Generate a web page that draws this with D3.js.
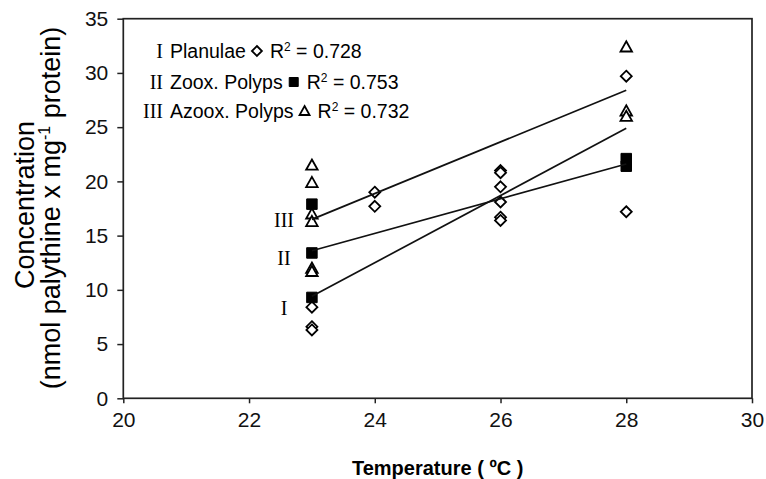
<!DOCTYPE html>
<html>
<head>
<meta charset="utf-8">
<script src="https://cdn.jsdelivr.net/npm/d3@7"></script>
<style>
  body { margin: 0; background: #fff; }
  svg { display: block; }
</style>
</head>
<body>
<script>
// tick values
const tempTicks = [20, 22, 24, 26, 28, 30];
const concTicks = [0, 5, 10, 15, 20, 25, 30, 35];

// I Planulae (diamonds)
const planT = [23, 23, 23, 24, 24, 26, 26, 26, 26, 26, 26, 28, 28];
const planV = [8.4, 6.6, 6.3, 19.0, 17.7, 21.0, 20.8, 19.5, 18.1, 16.7, 16.4, 29.7, 17.2];
// II Zoox. Polyps (filled squares)
const zooxT = [23, 23, 23, 28, 28];
const zooxV = [17.9, 13.4, 9.3, 22.1, 21.4];
// III Azoox. Polyps (triangles)
const azooxT = [23, 23, 23, 23, 23, 23, 28, 28, 28];
const azooxV = [21.5, 19.9, 17.0, 16.3, 12.0, 11.7, 32.4, 26.5, 26.0];

// regression lines, value at 23 and 28 degC
const fitT = [23, 28];
const fitI = [9.4, 24.9];
const fitII = [13.6, 21.6];
const fitIII = [16.5, 28.4];

// legend
const numerals = ['I', 'II', 'III'];
const groupNames = ['Planulae', 'Zoox. Polyps', 'Azoox. Polyps'];
const rSquared = ['0.728', '0.753', '0.732'];
// numeral labels next to the line starts
const numeralAt = [8.3, 12.9, 16.4];

const W = 766, H = 479;
const margin = { top: 18.7, right: 14, bottom: 80.7, left: 123.3 };

const svg = d3.select('body').append('svg')
  .attr('width', W)
  .attr('height', H);

const x = d3.scaleLinear().domain([20, 30]).range([margin.left, W - margin.right]);
const y = d3.scaleLinear().domain([0, 35]).range([H - margin.bottom, margin.top]);

const sans = '"Liberation Sans", Arial, sans-serif';
const serif = '"Liberation Serif", "Times New Roman", serif';

// axes
const xAxis = svg.append('g')
  .attr('transform', `translate(0,${y(0)})`)
  .call(d3.axisBottom(x).tickValues(tempTicks).tickSize(5).tickSizeOuter(0).tickPadding(9));
const yAxis = svg.append('g')
  .attr('transform', `translate(${x(20)},0)`)
  .call(d3.axisLeft(y).tickValues(concTicks).tickSize(6).tickSizeOuter(0).tickPadding(9));

[xAxis, yAxis].forEach(g => {
  g.select('.domain').remove();
  g.selectAll('line').attr('stroke', '#222').attr('stroke-width', 1.5);
  g.selectAll('text')
    .attr('fill', '#111')
    .style('font-family', sans)
    .style('font-size', '21px');
});

// frame
svg.append('rect')
  .attr('x', x(20)).attr('y', y(35))
  .attr('width', x(30) - x(20)).attr('height', y(0) - y(35))
  .attr('fill', 'none').attr('stroke', '#222').attr('stroke-width', 1.7);

// axis titles
svg.append('text')
  .attr('x', (x(20) + x(30)) / 2).attr('y', 475)
  .attr('text-anchor', 'middle')
  .style('font-family', sans).style('font-size', '20px').style('font-weight', 'bold')
  .text('Temperature ( ºC )');

const yTitle = svg.append('g').attr('transform', 'translate(0,205)');
yTitle.append('text')
  .attr('transform', 'translate(34,0) rotate(-90)')
  .attr('text-anchor', 'middle')
  .style('font-family', sans).style('font-size', '27px')
  .text('Concentration');
const t2 = yTitle.append('text')
  .attr('transform', 'translate(60,3) rotate(-90)')
  .attr('text-anchor', 'middle')
  .style('font-family', sans).style('font-size', '27px');
t2.append('tspan').text('(nmol palythine x mg');
t2.append('tspan').attr('dy', -10).style('font-size', '16px').text('-1');
t2.append('tspan').attr('dy', 10).text(' protein)');

// marker shapes
const shapes = {
  diamond: (s) => `M0,${-s / 2}L${s / 2},0L0,${s / 2}L${-s / 2},0Z`,
  square: (s) => `M${-s / 2},${-s / 2}h${s}v${s}h${-s}Z`,
  triangle: (s) => {
    const h = s * 0.8;
    return `M0,${-h / 2 - 1}L${s / 2},${h / 2}L${-s / 2},${h / 2}Z`;
  }
};

function drawMarker(sel, kind, s) {
  sel.append('path')
    .attr('d', shapes[kind](s))
    .attr('fill', kind === 'square' ? '#000' : '#fff')
    .attr('stroke', '#000')
    .attr('stroke-width', kind === 'square' ? 1 : 1.8)
    .attr('stroke-linejoin', 'miter');
}

const series = [
  { t: planT, v: planV, kind: 'diamond', size: 11 },
  { t: zooxT, v: zooxV, kind: 'square', size: 10.5 },
  { t: azooxT, v: azooxV, kind: 'triangle', size: 11.5 }
];

series.forEach(s => {
  s.v.forEach((val, i) => {
    const g = svg.append('g').attr('transform', `translate(${x(s.t[i])},${y(val)})`);
    drawMarker(g, s.kind, s.size);
  });
});

// regression lines
const line = d3.line().x(d => x(d[0])).y(d => y(d[1]));
[fitI, fitII, fitIII].forEach(f => {
  svg.append('path')
    .attr('d', line(fitT.map((t, i) => [t, f[i]])))
    .attr('fill', 'none')
    .attr('stroke', '#111')
    .attr('stroke-width', 1.7);
});

// numeral labels beside the lines
numerals.forEach((n, i) => {
  svg.append('text')
    .attr('x', 284).attr('y', y(numeralAt[i]))
    .attr('dy', '0.35em')
    .attr('text-anchor', 'middle')
    .style('font-family', serif).style('font-size', '20px')
    .text(n);
});

// legend
const legendY = [51, 82, 111];
const markerKinds = ['diamond', 'square', 'triangle'];
const markerSizes = [10, 9, 10];
numerals.forEach((n, i) => {
  const row = svg.append('g').attr('transform', `translate(0,${legendY[i]})`);
  row.append('text')
    .attr('x', 163).attr('dy', '0.35em')
    .attr('text-anchor', 'end')
    .style('font-family', serif).style('font-size', '20px')
    .text(n);
  const name = row.append('text')
    .attr('x', 170).attr('dy', '0.35em')
    .style('font-family', sans).style('font-size', '19.5px')
    .text(groupNames[i]);
  const end = 170 + name.node().getComputedTextLength();
  const m = row.append('g').attr('transform', `translate(${end + 11},0)`);
  drawMarker(m, markerKinds[i], markerSizes[i]);
  const r = row.append('text')
    .attr('x', end + 24).attr('dy', '0.35em')
    .style('font-family', sans).style('font-size', '19.5px');
  r.append('tspan').text('R');
  r.append('tspan').attr('dy', -7).style('font-size', '12px').text('2');
  r.append('tspan').attr('dy', 7).text(' = ' + rSquared[i]);
});
</script>
</body>
</html>
